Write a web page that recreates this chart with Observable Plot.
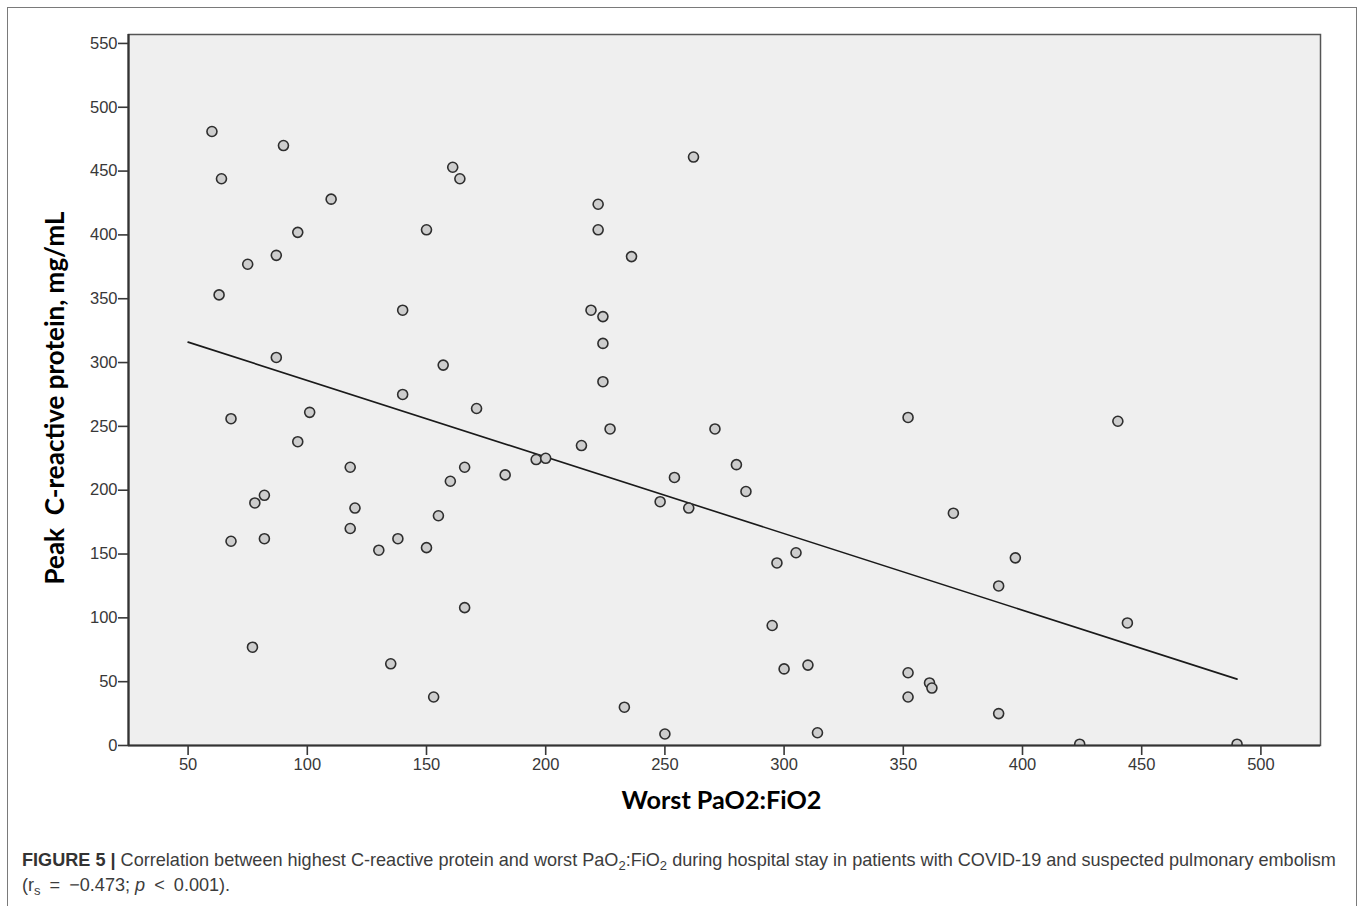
<!DOCTYPE html>
<html>
<head>
<meta charset="utf-8">
<script src="https://cdn.jsdelivr.net/npm/d3@7"></script>
<script src="https://cdn.jsdelivr.net/npm/@observablehq/plot@0.6"></script>
<style>
  html, body { margin: 0; padding: 0; background: #fff; width: 1358px; height: 906px; overflow: hidden; }
  #outer { position: absolute; left: 7px; top: 7px; width: 1350px; height: 960px; border: 1.5px solid #7a7a7a; box-sizing: border-box; }
  #chart { position: absolute; left: 0; top: 0; }
  #chart svg text { white-space: pre; }
  #cap { position: absolute; left: 22px; top: 848px; width: 1330px; font-family: "Liberation Sans", Arial, sans-serif; font-size: 18.1px; line-height: 25px; color: #3c3c3c; white-space: nowrap; }
  #cap b { color: #333; }
  #cap sub { font-size: 0.72em; vertical-align: -0.3em; line-height: 0; }
  #cap .op { margin: 0 4px; }
</style>
</head>
<body>
<div id="outer"></div>
<div id="chart"></div>
<div id="cap"><b>FIGURE 5 |</b> Correlation between highest C-reactive protein and worst PaO<sub>2</sub>:FiO<sub>2</sub> during hospital stay in patients with COVID-19 and suspected pulmonary embolism<br>(r<sub>s</sub><span class="op"> = </span>−0.473; <i>p</i><span class="op"> &lt; </span>0.001).</div>
<script>
// Worst PaO2:FiO2 (x) and peak C-reactive protein, mg/mL (y), one entry per patient
const paoFio = [60, 90, 64, 110, 96, 87, 75, 63, 140, 161, 164, 150, 222, 222, 236, 262, 219, 224,
  87, 157, 140, 68, 101, 96, 118, 160, 78, 82, 120, 155, 118, 68, 82, 130, 138, 150, 166, 166,
  171, 224, 224, 227, 215, 196, 200, 183, 271, 280, 284, 254, 248, 260, 305, 297, 352, 440,
  371, 397, 390, 444, 77, 135, 153, 295, 300, 310, 233, 250, 314, 352, 352, 361, 362, 390, 424, 490];
const crp = [481, 470, 444, 428, 402, 384, 377, 353, 341, 453, 444, 404, 424, 404, 383, 461, 341, 336,
  304, 298, 275, 256, 261, 238, 218, 207, 190, 196, 186, 180, 170, 160, 162, 153, 162, 155, 108, 218,
  264, 315, 285, 248, 235, 224, 225, 212, 248, 220, 199, 210, 191, 186, 151, 143, 257, 254,
  182, 147, 125, 96, 77, 64, 38, 94, 60, 63, 30, 9, 10, 57, 38, 49, 45, 25, 1, 1];

// Fitted regression line end points
const fitX = [50, 490];
const fitY = [316, 52];

const xTicks = [50, 100, 150, 200, 250, 300, 350, 400, 450, 500];
const yTicks = [0, 50, 100, 150, 200, 250, 300, 350, 400, 450, 500, 550];

const xTitle = "Worst PaO2:FiO2";
const yTitle = "Peak  C-reactive protein, mg/mL";

const points = paoFio.map((x, i) => ({x, y: crp[i]}));
const fit = fitX.map((x, i) => ({x, y: fitY[i]}));

const chart = Plot.plot({
  width: 1358,
  height: 850,
  marginLeft: 128,
  marginRight: 38,
  marginTop: 34,
  marginBottom: 105,
  style: {fontFamily: "Liberation Sans, Arial, sans-serif", fontSize: "16px", background: "transparent"},
  x: {domain: [25, 525]},
  y: {domain: [0, 557]},
  marks: [
    Plot.frame({fill: "#efefef", stroke: "#555", strokeWidth: 1.5}),
    Plot.line(fit, {x: "x", y: "y", stroke: "#1a1a1a", strokeWidth: 1.6}),
    Plot.dot(points, {x: "x", y: "y", r: 5, fill: "#cdcdcd", stroke: "#2e2e2e", strokeWidth: 1.6, clip: true}),
    Plot.ruleY([0], {stroke: "#333", strokeWidth: 2.2}),
    Plot.ruleX([25], {stroke: "#333", strokeWidth: 2.2}),
    Plot.axisX(xTicks, {tickSize: 10, tickPadding: 3, color: "#383838", strokeWidth: 1.6, label: null, fontSize: 16.5}),
    Plot.axisY(yTicks, {tickSize: 10, tickPadding: 1, color: "#383838", strokeWidth: 1.6, label: null, fontSize: 16.5}),
    Plot.text([xTitle], {frameAnchor: "bottom", textAnchor: "middle", dy: 63, dx: -3, fontFamily: "Lato", fontWeight: "bold", fontSize: 25.2, fill: "#000"}),
    Plot.text([yTitle], {frameAnchor: "left", textAnchor: "middle", dx: -73, dy: 8, rotate: -90, fontFamily: "Lato", fontWeight: "bold", fontSize: 26, fill: "#000"})
  ]
});
document.getElementById("chart").appendChild(chart);
</script>
</body>
</html>
